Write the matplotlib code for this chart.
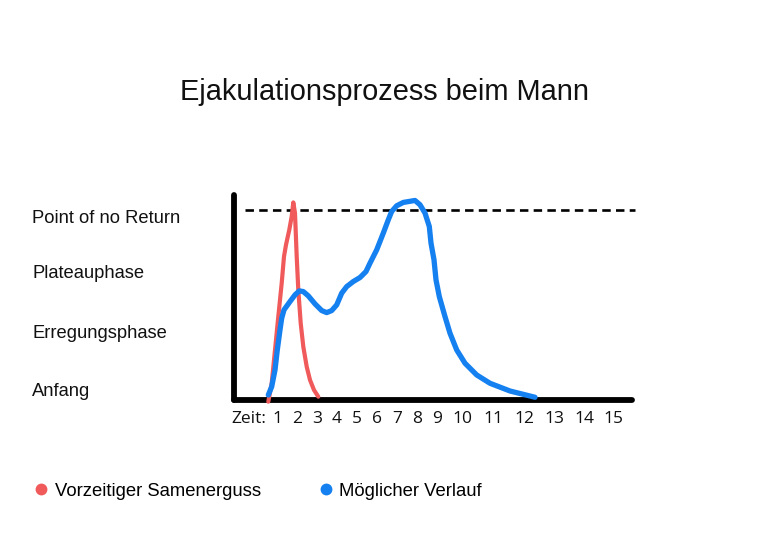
import matplotlib
matplotlib.use("Agg")
import matplotlib.pyplot as plt
from matplotlib.lines import Line2D
import matplotlib.transforms as mtransforms

# ---- data ----
title = "Ejakulationsprozess beim Mann"
phase_labels = ["Anfang", "Erregungsphase", "Plateauphase", "Point of no Return"]
phase_pos = [0.14, 1.15, 2.18, 3.12]
threshold = 3.28

tick_labels = ["Zeit:", "1", "2", "3", "4", "5", "6", "7", "8", "9",
               "10", "11", "12", "13", "14", "15"]
tick_pos = [-0.4, 1, 2, 3, 4, 5, 6, 7, 8, 9, 10.25, 11.8, 13.35, 14.85, 16.35, 17.8]

red_x = [0.565, 0.735, 0.9, 1.065, 1.235, 1.35, 1.45, 1.615, 1.735, 1.815, 1.9,
         1.985, 2.065, 2.185, 2.315, 2.485, 2.65, 2.85, 3.065]
red_y = [-0.029, 0.288, 0.862, 1.436, 2.012, 2.471, 2.672, 2.931, 3.160, 3.402, 3.219,
         2.471, 1.897, 1.322, 0.919, 0.574, 0.345, 0.172, 0.057]

blue_x = [0.565, 0.735, 0.9, 1.015, 1.15, 1.235, 1.35, 1.65, 1.9, 2.115, 2.315,
          2.565, 2.9, 3.235, 3.485, 3.735, 3.985, 4.235, 4.485, 4.815, 5.15, 5.45,
          5.65, 5.985, 6.315, 6.565, 6.735, 6.985, 7.315, 7.9, 8.15, 8.4, 8.615,
          8.7, 8.85, 8.95, 9.115, 9.4, 9.65, 9.985, 10.4, 10.985, 11.65, 12.65, 13.9]
blue_y = [0.086, 0.229, 0.517, 0.862, 1.207, 1.409, 1.552, 1.695, 1.810, 1.879, 1.867,
          1.793, 1.655, 1.540, 1.505, 1.540, 1.638, 1.840, 1.953, 2.040, 2.109, 2.212,
          2.357, 2.586, 2.874, 3.103, 3.247, 3.345, 3.402, 3.436, 3.362, 3.219, 2.988,
          2.702, 2.414, 2.069, 1.781, 1.436, 1.150, 0.862, 0.633, 0.431, 0.288, 0.155,
          0.047]

series_names = ["Vorzeitiger Samenerguss", "Möglicher Verlauf"]
RED = "#f05a5a"
BLUE = "#1580f0"

# ---- figure ----
W, H = 768, 546
fig = plt.figure(figsize=(W / 100, H / 100), dpi=100)
fig.patch.set_facecolor("white")

xmin, xmax = -1.15, 18.75
ymin, ymax = 0.0, 3.53
ax = fig.add_axes([234 / W, (H - 400) / H, 398 / W, 205 / H])
ax.set_xlim(xmin, xmax)
ax.set_ylim(ymin, ymax)
for s in ax.spines.values():
    s.set_visible(False)
ax.set_yticks([])
ax.set_xticks(tick_pos)
ax.set_xticklabels(tick_labels, family="Open Sans", fontsize=12.5, color="#111111")
ax.tick_params(axis="x", length=0, pad=8)

# axes lines (hand-drawn look)
ax.plot([xmin, xmin], [ymin, ymax], color="black", lw=4.2,
        solid_capstyle="round", clip_on=False, zorder=3)
ax.plot([xmin, xmax], [ymin, ymin], color="black", lw=4.2,
        solid_capstyle="round", clip_on=False, zorder=3)

# threshold dashed line
ax.plot([-0.6, 18.9], [threshold, threshold], color="black", lw=1.9,
        dashes=(3.2, 2.0), clip_on=False, zorder=2)

ax.plot(red_x, red_y, color=RED, lw=3.0, solid_capstyle="round",
        solid_joinstyle="round", clip_on=False, zorder=4)
ax.plot(blue_x, blue_y, color=BLUE, lw=3.8, solid_capstyle="round",
        solid_joinstyle="round", clip_on=False, zorder=5)

# phase labels at the left edge of the figure
trans = mtransforms.blended_transform_factory(fig.transFigure, ax.transData)
for lab, yp in zip(phase_labels, phase_pos):
    ax.text(32 / W, yp, lab, transform=trans, ha="left", va="center",
            family="Liberation Sans", fontsize=13.2, color="#111111", clip_on=False)

fig.text(384 / W, 1 - 92 / H, title, ha="center", va="center",
         family="Liberation Sans", fontsize=20.9, color="#111111")

handles = [Line2D([], [], marker="o", ls="none", color=RED, markersize=7.5),
           Line2D([], [], marker="o", ls="none", color=BLUE, markersize=7.5)]
fig.legend(handles, series_names, loc="center left",
           bbox_to_anchor=(35 / W, 1 - 491 / H), ncol=2, frameon=False,
           prop={"family": "Liberation Sans", "size": 13.3},
           handlelength=0.7, handletextpad=0.38, columnspacing=3.15,
           borderpad=0, borderaxespad=0)

fig.savefig("out.png", dpi=100, facecolor="white")
